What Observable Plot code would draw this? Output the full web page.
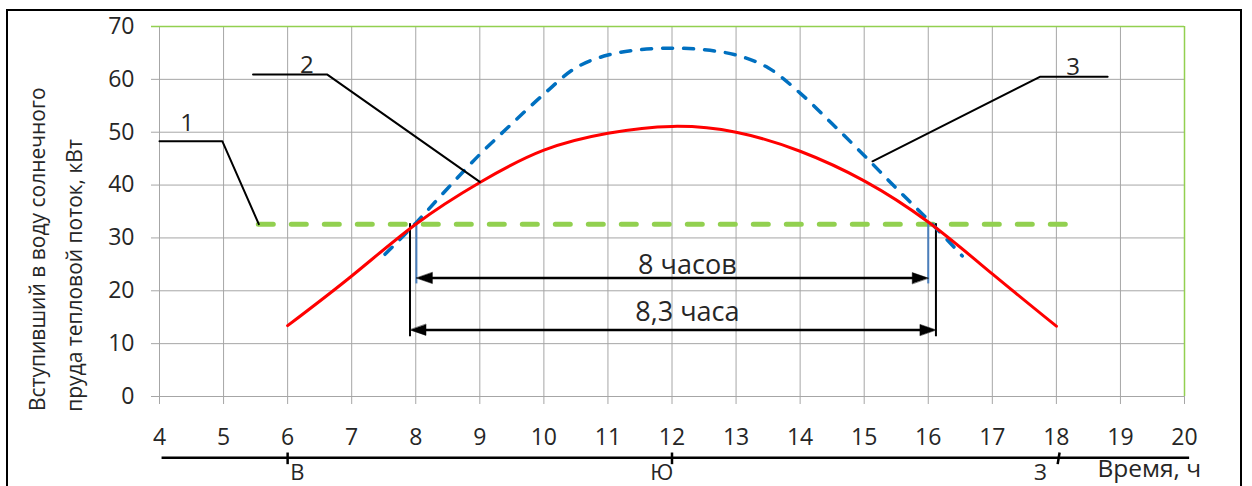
<!DOCTYPE html>
<html>
<head>
<meta charset="utf-8">
<script src="https://cdn.jsdelivr.net/npm/d3@7"></script>
<script src="https://cdn.jsdelivr.net/npm/@observablehq/plot@0.6"></script>
<style>
  html, body { margin: 0; padding: 0; background: #fff; overflow: hidden; }
  #wrap { position: relative; width: 1252px; height: 486px; }
  #chart { position: absolute; left: 0; top: 0; }
  #frame { position: absolute; left: 6px; top: 9px; width: 1236px; height: 600px; border: 2.5px solid #000; box-sizing: border-box; pointer-events: none; }
</style>
</head>
<body>
<div id="wrap"><div id="chart"></div><div id="frame"></div></div>
<script>
// ---- data ----
const xTicks = [4,5,6,7,8,9,10,11,12,13,14,15,16,17,18,19,20];
const yTicks = [0,10,20,30,40,50,60,70];

// curve 2 (red): heat flux into the pond
const redHours = [6,7,8,9,10,11,12,13,14,15,16,17,18];
const redValues = [13.4,22.8,32.6,40.5,46.6,49.8,51.1,50.0,46.4,40.8,33.0,23.2,13.3];

// curve 3 (blue dashed)
const blueHours = [7.52,8,8.5,9,9.5,10,10.5,11,11.5,12,12.5,13,13.5,14,14.5,15,15.5,16,16.53];
const blueValues = [26.9,32.8,39.4,45.8,51.6,57.2,62.2,64.6,65.6,65.9,65.6,64.6,62.2,57.4,51.6,45.6,39.4,33.4,26.6];

// line 1 (green dashed) level and extent
const greenLevel = 32.6;
const greenStart = 5.55, greenEnd = 18.27;

// leader lines for labels 1, 2, 3
const leaderIds = ["1","1","1","2","2","2","3","3","3"];
const leaderX = [4.0,4.98,5.55, 5.46,6.62,9.0, 18.8,17.75,15.13];
const leaderY = [48.3,48.3,32.6, 60.9,60.9,40.6, 60.5,60.5,44.5];
const labelNames = ["1","2","3"];
const labelX = [4.43,6.3,18.26];
const labelY = [51.7,62.6,62.3];

// duration markers
const blueMarkX = [8.01,16.0];   // 8 hours
const blackMarkX = [7.91,16.12]; // 8.3 hours
const arrowUpperY = 22.4, arrowLowerY = 12.6;
const markTop = 32.7, blueMarkBottom = 21.3, blackMarkBottom = 11.3;
const durationTexts = ["8 часов","8,3 часа"];
const durationTextX = [12.24,12.24];
const durationTextY = [24.8,15.9];

// compass/time scale under the x axis
const compassY = -11.6;
const compassStart = 4.04, compassEnd = 20.08;
const compassTickX1 = [6,12,18.05];
const compassTickX2 = [6,12,18.02];
const compassTickTop = -10.6, compassTickBottom = -12.8;
const compassNames = ["В","Ю","З"];
const compassNameX = [6.15,11.84,17.75];
const compassNameY = -14.45;
const timeLabel = "Время, ч";
const timeLabelX = 18.64, timeLabelY = -13.8;

const yLabelLines = ["Вступивший в воду солнечного","пруда тепловой поток, кВт"];
const yLabelX = [2.11,2.69];
const yLabelY = [-2.75,-2.9];

// ---- build tables ----
const red = redHours.map((h,i)=>({x:h,y:redValues[i]}));
const blue = blueHours.map((h,i)=>({x:h,y:blueValues[i]}));
const leaders = leaderX.map((x,i)=>({id:leaderIds[i],x,y:leaderY[i]}));
const labels = labelNames.map((t,i)=>({t,x:labelX[i],y:labelY[i]}));
const durTexts = durationTexts.map((t,i)=>({t,x:durationTextX[i],y:durationTextY[i]}));
const compassTicks = compassTickX1.map((x,i)=>({x1:x,x2:compassTickX2[i]}));
const compassLabels = compassNames.map((t,i)=>({t,x:compassNameX[i]}));
const yLabels = yLabelLines.map((t,i)=>({t,x:yLabelX[i],y:yLabelY[i]}));

const triangle = {
  draw(context, l, r) {
    const w = 5.5;
    context.moveTo(0, -l);
    context.lineTo(-w, 0);
    context.lineTo(w, 0);
    context.closePath();
  }
};
const arrowHeads = [
  {x:blueMarkX[0], y:arrowUpperY, r:-90},
  {x:blueMarkX[1], y:arrowUpperY, r:90},
  {x:blackMarkX[0], y:arrowLowerY, r:-90},
  {x:blackMarkX[1], y:arrowLowerY, r:90}
];

const gridColor = "#a6a6a6";
const textColor = "#262626";
const green = "#92d050";

const chart = Plot.plot({
  width: 1252,
  height: 486,
  marginLeft: 159,
  marginRight: 68,
  marginTop: 26,
  marginBottom: 90,
  x: {domain: [4,20]},
  y: {domain: [0,70]},
  style: {fontFamily: "'Open Sans'", fontSize: "23px", color: textColor, background: "transparent", overflow: "visible"},
  marks: [
    Plot.gridX(xTicks.filter(d=>d<20), {stroke: gridColor, strokeOpacity: 1}),
    Plot.gridY(yTicks.filter(d=>d<70), {stroke: gridColor, strokeOpacity: 1}),
    Plot.axisX(xTicks, {tickSize: 8, tickPadding: 24, stroke: gridColor, strokeOpacity: 1, fill: textColor, fontSize: 23, label: null, tickFormat: d=>String(d)}),
    Plot.axisY(yTicks, {tickSize: 8, tickPadding: 17, stroke: gridColor, strokeOpacity: 1, fill: textColor, fontSize: 23, label: null, tickFormat: d=>String(d)}),
    Plot.ruleY([70], {x1: 3.875, x2: 20, stroke: green, strokeWidth: 1.5}),
    Plot.ruleX([20], {y1: 0, y2: 70, stroke: green, strokeWidth: 1.5}),
    // green dashed level line (1)
    Plot.ruleY([greenLevel], {x1: greenStart, x2: greenEnd, stroke: green, strokeWidth: 5, strokeDasharray: "15,18", strokeLinecap: "round"}),
    // duration markers
    Plot.ruleX(blueMarkX, {y1: blueMarkBottom, y2: markTop, stroke: "#4a7ebb", strokeWidth: 2}),
    Plot.ruleX(blackMarkX, {y1: blackMarkBottom, y2: markTop, stroke: "#000", strokeWidth: 2}),
    // curves
    Plot.line(blue, {x: "x", y: "y", stroke: "#0070c0", strokeWidth: 3.5, strokeDasharray: "10,11", strokeLinecap: "round", curve: "catmull-rom"}),
    Plot.line(red, {x: "x", y: "y", stroke: "#ff0000", strokeWidth: 3, curve: "natural"}),
    // arrows
    Plot.ruleY([arrowUpperY], {x1: blueMarkX[0]+0.15, x2: blueMarkX[1]-0.15, stroke: "#000", strokeWidth: 2.5}),
    Plot.ruleY([arrowLowerY], {x1: blackMarkX[0]+0.15, x2: blackMarkX[1]-0.15, stroke: "#000", strokeWidth: 2.5}),
    Plot.vector(arrowHeads, {x: "x", y: "y", rotate: "r", length: 16, anchor: "end", shape: triangle, fill: "#000", stroke: "#000", strokeWidth: 0.5}),
    Plot.text(durTexts, {x: "x", y: "y", text: "t", fill: textColor, fontSize: 27}),
    // leader lines and numbers
    Plot.line(leaders, {x: "x", y: "y", z: "id", stroke: "#000", strokeWidth: 2}),
    Plot.text(labels, {x: "x", y: "y", text: "t", fill: textColor, fontSize: 24}),
    // compass / time scale
    Plot.ruleY([compassY], {x1: compassStart, x2: compassEnd, stroke: "#000", strokeWidth: 2.5}),
    Plot.link(compassTicks, {x1: "x1", x2: "x2", y1: compassTickTop, y2: compassTickBottom, stroke: "#000", strokeWidth: 2.5}),
    Plot.text(compassLabels, {x: "x", y: compassNameY, text: "t", fill: textColor, fontSize: 22}),
    Plot.text([timeLabel], {x: timeLabelX, y: timeLabelY, text: d=>d, textAnchor: "start", fill: textColor, fontSize: 24.5}),
    // y label
    Plot.text(yLabels, {x: "x", y: "y", text: "t", rotate: -90, textAnchor: "start", fill: textColor, fontSize: 21})
  ]
});
document.getElementById("chart").appendChild(chart);
</script>
</body>
</html>
